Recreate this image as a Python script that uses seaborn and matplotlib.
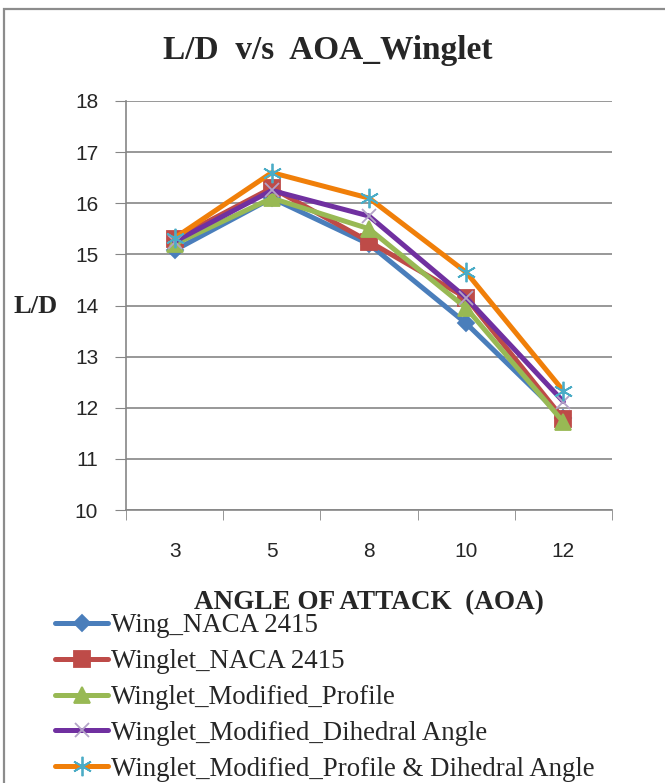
import numpy as np
import pandas as pd
import seaborn as sns
import matplotlib.pyplot as plt
from matplotlib.lines import Line2D
from matplotlib.patches import Rectangle

# angle of attack categories
aoa = ['3', '5', '8', '10', '12']

# L/D values
wing_naca = [15.08, 16.10, 15.20, 13.65, 11.80]
winglet_naca = [15.30, 16.30, 15.25, 14.15, 11.78]
winglet_profile = [15.20, 16.10, 15.50, 13.95, 11.72]
winglet_dihedral = [15.25, 16.25, 15.75, 14.15, 12.12]
winglet_both = [15.32, 16.60, 16.10, 14.65, 12.33]

names = ['Wing_NACA 2415', 'Winglet_NACA 2415', 'Winglet_Modified_Profile',
         'Winglet_Modified_Dihedral Angle', 'Winglet_Modified_Profile & Dihedral Angle']

sns.set_style('white')
plt.rcParams['font.family'] = ['Liberation Sans', 'DejaVu Sans']

fig = plt.figure(figsize=(6.65, 7.83), dpi=100)
ax = fig.add_axes([126 / 665, 1 - 510 / 783, 486 / 665, 409 / 783])

# line colour, marker, marker colour, marker size
styles = [
    ('#4A7EBB', 'D', '#4A7EBB', 8),
    ('#BE4B48', 's', '#BE4B48', 11),
    ('#98B954', '^', '#98B954', 12),
    ('#7030A0', 'x', '#B3A2C7', 10),
    ('#F07F09', (6, 2, 0), '#4BACC6', 14),
]
series = [wing_naca, winglet_naca, winglet_profile, winglet_dihedral, winglet_both]

handles = []
for vals, name, (c, m, mc, ms) in zip(series, names, styles):
    df = pd.DataFrame({'AOA': aoa, 'LD': vals})
    sns.lineplot(data=df, x='AOA', y='LD', ax=ax, color=c, lw=3.6,
                 marker=m, markersize=ms, markerfacecolor=mc,
                 markeredgecolor=mc, markeredgewidth=1.3, sort=False)
    handles.append(Line2D([], [], color=c, lw=3.6, marker=m, markersize=ms,
                          markerfacecolor=mc, markeredgecolor=mc, markeredgewidth=1.3))

ax.set_xlim(-0.5, 4.5)
ax.set_ylim(10, 18)
ax.set_yticks(np.arange(10, 19, 1))
ax.yaxis.grid(True, color='#868686', lw=1.2)
ax.xaxis.grid(False)
for s in ['top', 'right']:
    ax.spines[s].set_visible(False)
for s in ['left', 'bottom']:
    ax.spines[s].set_color('#868686')
    ax.spines[s].set_linewidth(1.2)

ax.tick_params(axis='y', which='major', left=True, length=8, color='#868686',
               labelsize=15, pad=12)
ax.tick_params(axis='x', which='major', length=0, labelsize=15, pad=23)
ax.set_xticks(np.arange(-0.5, 5, 1), minor=True)
ax.tick_params(axis='x', which='minor', bottom=True, length=7, color='#868686')

ax.set_xlabel('ANGLE OF ATTACK  (AOA)', family=['Liberation Serif'],
              fontweight='bold', fontsize=19.5, va='center')
ax.xaxis.set_label_coords(0.5, -(603 - 510) / 409)
ax.set_ylabel('L/D', family=['Liberation Serif'], fontweight='bold',
              fontsize=19, rotation=0, va='center', ha='center')
ax.yaxis.set_label_coords(-(126 - 36) / 486, 0.5 - (306 - 305) / 409)

fig.text(328 / 665, 1 - 50 / 783, 'L/D  v/s  AOA_Winglet', family=['Liberation Serif'],
         fontweight='bold', fontsize=24, ha='center', va='center')

fig.legend(handles, names, loc='upper left', bbox_to_anchor=(42 / 665, 1 - 600 / 783),
           frameon=False, prop={'family': 'Liberation Serif', 'size': 19.4},
           handlelength=1.95, handletextpad=0.1, labelspacing=0.4, borderpad=0)

fig.add_artist(Rectangle((4 / 665, -0.1), 1.2, 1.1 - 9 / 783, transform=fig.transFigure,
                         fill=False, edgecolor='#8c8c8c', lw=1.6))

fig.savefig('out.png', dpi=100)
